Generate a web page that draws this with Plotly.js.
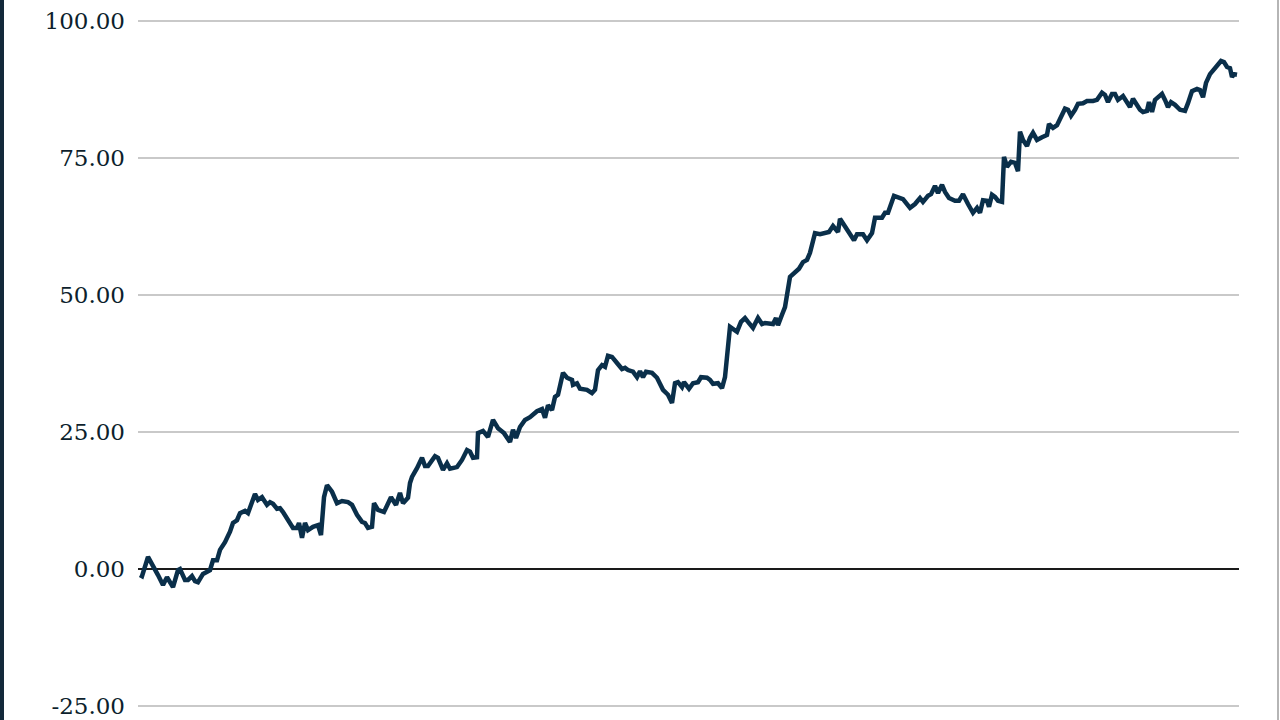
<!DOCTYPE html>
<html>
<head>
<meta charset="utf-8">
<script src="https://cdn.plot.ly/plotly-3.0.1.min.js"></script>
<style>
  html, body { margin: 0; padding: 0; background: #ffffff; }
  #chart { width: 1280px; height: 720px; }
  #edgeL { position: absolute; left: 0; top: 0; width: 4px; height: 720px; background: #13293a; }
  #edgeR { position: absolute; left: 1277px; top: 0; width: 2px; height: 720px; background: #b5b5b5; }
</style>
</head>
<body>
<div id="chart"></div>
<div id="edgeL"></div>
<div id="edgeR"></div>
<script>
// time index (arbitrary units)
const t = [0,2,8,13,18,23,27,33,38,40,45,48,52,55,58,63,67,70,73,77,80,85,90,93,97,100,105,108,115,118,122,127,130,133,137,140,143,148,153,157,159,162,165,168,173,178,181,184,187,192,197,202,208,212,217,222,225,228,232,234,238,244,248,251,256,260,263,268,270,272,277,282,285,288,295,298,303,307,310,317,322,327,330,333,337,338,343,348,353,358,364,370,373,376,380,385,390,397,402,405,408,412,415,418,423,427,432,433,437,440,447,452,455,458,462,465,468,472,477,482,485,488,493,497,500,503,506,512,517,523,528,532,535,538,542,544,549,553,558,561,567,570,573,578,582,585,590,597,601,605,608,613,618,622,625,630,633,636,638,642,645,650,655,659,663,667,670,675,680,685,689,693,698,700,705,710,714,717,723,727,732,735,742,745,748,754,758,763,770,775,780,783,788,791,795,798,802,805,809,815,819,823,828,833,837,840,843,847,849,852,855,858,862,864,867,871,875,878,880,883,887,890,893,897,902,907,909,913,917,922,925,928,931,935,938,943,947,953,957,962,965,968,972,975,978,983,988,990,993,997,1000,1003,1007,1009,1012,1015,1018,1022,1025,1028,1031,1035,1040,1045,1048,1052,1057,1060,1063,1066,1070,1074,1078,1081,1084,1087,1090,1092,1094,1097];
// cumulative value
const values = [-1.1,-1.3,2.2,0.7,-1.1,-2.9,-1.5,-3.3,-0.2,0.0,-2.0,-2.0,-1.3,-2.2,-2.4,-0.9,-0.5,-0.2,1.6,1.6,3.5,4.9,6.8,8.4,8.9,10.2,10.6,10.2,13.7,12.6,13.1,11.7,12.2,11.9,11.0,11.1,10.4,8.9,7.5,7.5,8.4,5.7,8.4,7.1,7.7,8.0,6.2,13.1,15.3,14.1,12.0,12.4,12.2,11.7,9.9,8.6,8.4,7.5,7.7,12.0,10.8,10.4,12.2,13.1,11.7,13.9,12.0,13.0,15.7,16.8,18.4,20.3,18.8,18.8,20.6,20.3,18.1,19.3,18.3,18.6,19.9,21.7,21.4,20.3,20.4,24.8,25.2,24.1,27.2,25.7,24.8,23.2,25.4,23.9,25.9,27.2,27.7,28.8,29.2,27.6,29.9,29.0,31.4,31.8,35.8,34.9,34.5,33.6,33.9,32.9,32.7,32.1,32.7,36.3,37.2,36.9,38.9,38.7,37.6,36.5,36.7,36.3,36.0,35.0,36.1,35.0,36.0,35.8,34.9,32.7,31.8,30.3,33.9,34.1,33.2,34.1,32.9,33.9,34.1,35.0,34.9,34.5,33.8,33.9,33.0,35.0,44.2,43.3,45.1,45.8,45.1,44.0,45.8,44.7,44.9,44.7,44.7,45.8,44.5,46.4,47.8,53.3,54.2,54.8,56.0,56.4,57.7,61.3,61.1,61.3,61.5,62.6,61.5,63.9,62.4,61.0,60.0,61.1,61.1,60.0,61.3,64.1,64.1,65.0,65.0,68.1,67.9,67.5,65.9,66.6,67.7,67.0,68.1,68.4,69.9,68.6,70.1,68.8,67.7,67.2,67.2,68.4,66.6,65.0,65.9,65.0,67.3,67.2,66.1,68.3,67.9,67.2,67.0,75.2,73.4,74.3,74.1,72.6,79.8,78.3,77.2,78.7,79.6,78.3,78.8,79.2,81.2,80.5,81.0,82.9,84.0,83.8,82.7,83.8,84.9,85.0,85.4,85.4,85.6,86.9,86.5,85.2,86.7,86.7,85.6,86.3,85.0,84.3,85.8,84.7,83.8,83.4,83.6,85.2,83.4,85.6,86.0,86.7,85.6,84.3,85.2,84.7,83.8,83.6,85.0,87.2,87.6,87.4,86.1,88.7,90.3,91.1,92.2,92.7,92.5,91.6,91.4,89.8,90.3,90.2];
const yTicks = [-25, 0, 25, 50, 75, 100];
const yTickText = yTicks.map(v => v.toFixed(2));

const trace = {
  x: t,
  y: values,
  type: 'scatter',
  mode: 'lines',
  line: { color: '#0a2f4a', width: 4.5 },
  hoverinfo: 'skip'
};

const layout = {
  width: 1280,
  height: 720,
  margin: { l: 138, r: 41, t: 0, b: 0, pad: 0 },
  paper_bgcolor: '#ffffff',
  plot_bgcolor: '#ffffff',
  showlegend: false,
  font: { family: '"DejaVu Serif", "Liberation Serif", serif', size: 23, color: '#0d1f2d' },
  xaxis: {
    range: [-2, 1099],
    showgrid: false,
    zeroline: false,
    showticklabels: false,
    ticks: '',
    showline: false,
    fixedrange: true
  },
  yaxis: {
    range: [-27.55, 103.83],
    tickmode: 'array',
    tickvals: yTicks,
    ticktext: yTickText,
    ticks: '',
    ticklabelstandoff: 12,
    showgrid: true,
    gridcolor: '#c9c9c9',
    gridwidth: 1.6,
    zeroline: true,
    zerolinecolor: '#1a1a1a',
    zerolinewidth: 1.6,
    showline: false,
    fixedrange: true
  }
};

Plotly.newPlot('chart', [trace], layout, { displayModeBar: false, staticPlot: true });
</script>
</body>
</html>
